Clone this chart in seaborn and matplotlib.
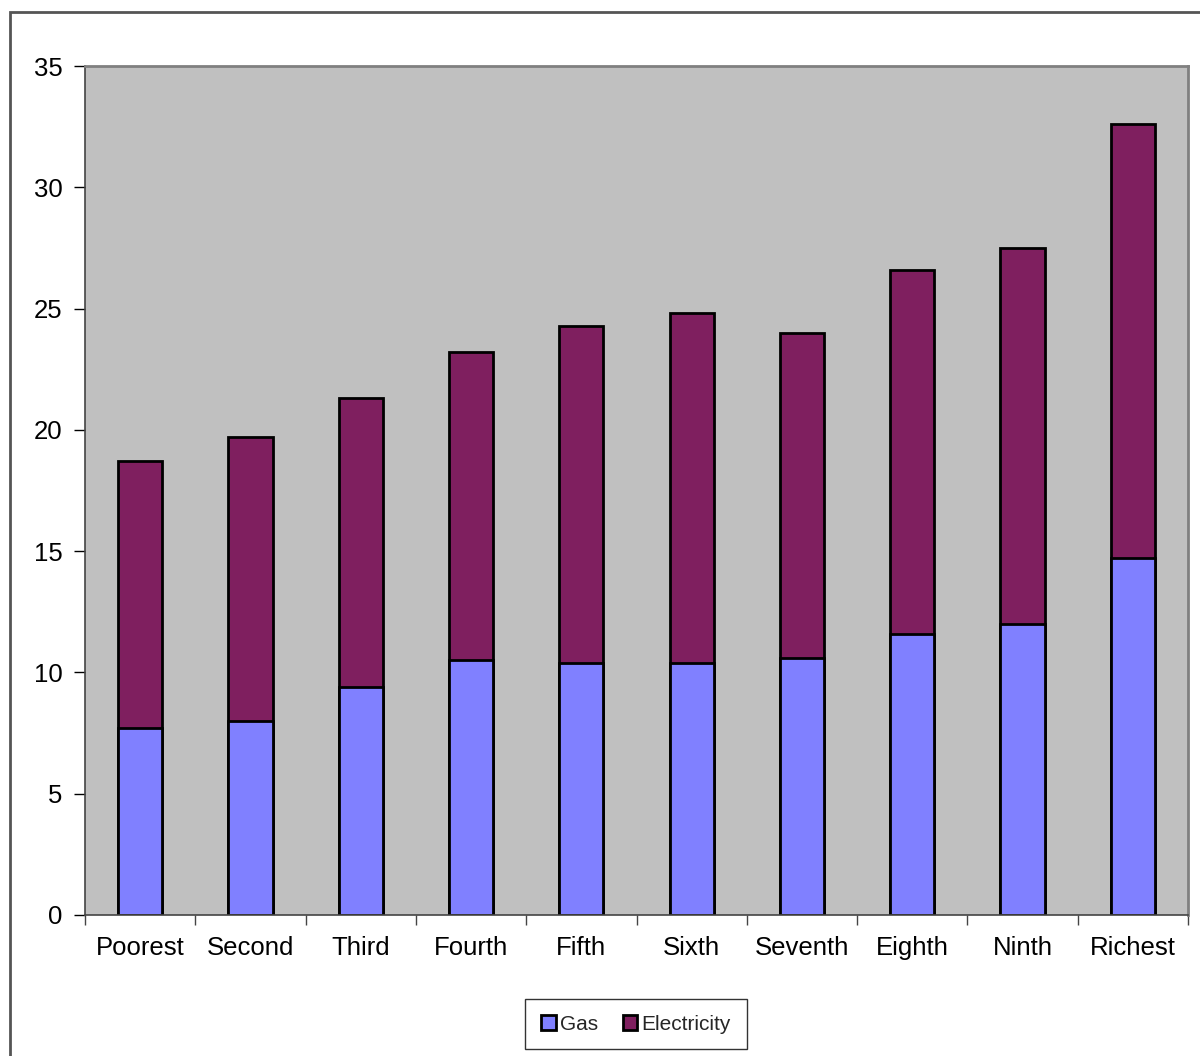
import matplotlib
matplotlib.use("Agg")
import matplotlib.pyplot as plt
import seaborn as sns
import pandas as pd
from matplotlib.patches import Rectangle

categories = ["Poorest", "Second", "Third", "Fourth", "Fifth", "Sixth",
              "Seventh", "Eighth", "Ninth", "Richest"]
gas = [7.7, 8.0, 9.4, 10.5, 10.4, 10.4, 10.6, 11.6, 12.0, 14.7]
electricity = [11.0, 11.7, 11.9, 12.7, 13.9, 14.4, 13.4, 15.0, 15.5, 17.9]
yticks = [0, 5, 10, 15, 20, 25, 30, 35]

gas_color = "#8080FF"
elec_color = "#7F1F5F"

sns.set_theme(style="white")
plt.rcParams["font.family"] = ["Liberation Sans", "DejaVu Sans"]

df = pd.DataFrame({"cat": categories, "gas": gas, "elec": electricity})
df["total"] = df["gas"] + df["elec"]

fig = plt.figure(figsize=(12, 10.56), dpi=100)
ax = fig.add_axes([85 / 1200, 1 - 915 / 1056, (1188 - 85) / 1200, (915 - 66) / 1056])
ax.set_facecolor("#C0C0C0")

sns.barplot(data=df, x="cat", y="total", color=elec_color, saturation=1,
            width=0.4, edgecolor="black", linewidth=2, ax=ax, label="Electricity")
sns.barplot(data=df, x="cat", y="gas", color=gas_color, saturation=1,
            width=0.4, edgecolor="black", linewidth=2, ax=ax, label="Gas")

handles, labels = ax.get_legend_handles_labels()
if ax.get_legend() is not None:
    ax.get_legend().remove()

ax.set_xlim(-0.5, len(categories) - 0.5)
ax.set_ylim(0, 35)
ax.set_yticks(yticks)
ax.set_xlabel("")
ax.set_ylabel("")
ax.tick_params(axis="both", labelsize=18.5, colors="black", length=8, width=1,
               direction="out", left=True, bottom=False)
ax.tick_params(axis="y", pad=8)
ax.tick_params(axis="x", pad=7)
ax.set_xticks(range(len(categories)))
ax.set_xticklabels(categories)
ax.set_xticks([i - 0.5 for i in range(len(categories) + 1)], minor=True)
ax.tick_params(axis="x", which="minor", length=7, width=1, bottom=True, color="#444444")

for side in ["top", "right"]:
    ax.spines[side].set_color("#808080")
    ax.spines[side].set_linewidth(2)
ax.spines["left"].set_color("#444444")
ax.spines["bottom"].set_color("#444444")
ax.spines["left"].set_linewidth(1.2)
ax.spines["bottom"].set_linewidth(1.2)

order = [labels.index("Gas"), labels.index("Electricity")]
leg = fig.legend([handles[i] for i in order], [labels[i] for i in order],
                 loc="center", bbox_to_anchor=(636 / 1200, 1 - 1024 / 1056),
                 ncol=2, frameon=True, fancybox=False, fontsize=15,
                 handlelength=0.7, handleheight=0.7, handletextpad=0.2,
                 columnspacing=1.2, borderpad=0.75, edgecolor="black")
leg.get_frame().set_linewidth(1)

fig.patches.append(Rectangle((10 / 1200, -0.01), 1.1, 1 - 12 / 1056 + 0.01,
                             transform=fig.transFigure, fill=False,
                             edgecolor="#555555", linewidth=2))

fig.savefig("out.png", dpi=100, facecolor="white")
